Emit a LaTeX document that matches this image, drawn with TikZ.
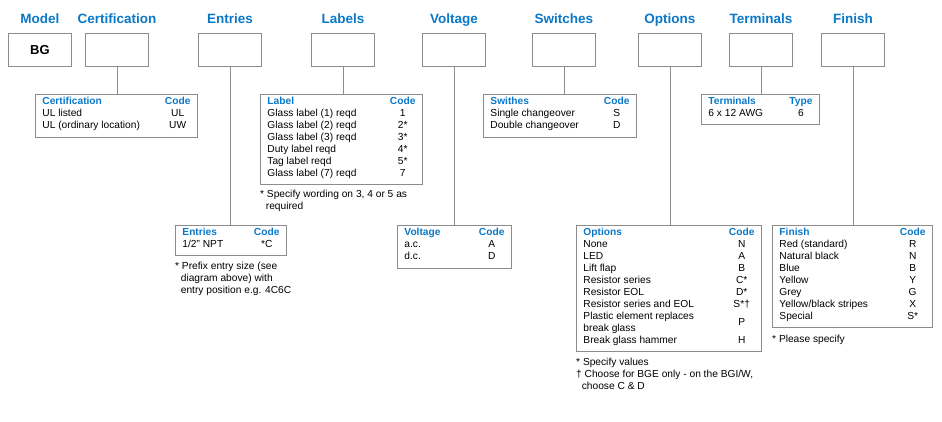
\documentclass[tikz,border=0pt]{standalone}
\usepackage{fontspec}
\setmainfont{Liberation Sans}
\usepackage{tikz}
\usetikzlibrary{positioning}
\definecolor{hdblue}{HTML}{0A78C8}
\definecolor{boxgrey}{HTML}{8C8C8C}
\newcommand{\hd}[1]{\textcolor{hdblue}{\textbf{#1}}}
\newcommand{\codetab}[2]{%
  \begin{tabular*}{#1}{@{}l@{\extracolsep{\fill}}c@{}}#2\end{tabular*}}

\begin{document}
\begin{tikzpicture}[
  x=1pt, y=-1pt,
  title/.style = {font=\fontsize{13.5}{15}\selectfont\bfseries, text=hdblue, anchor=base},
  field/.style = {draw=boxgrey, line width=0.9pt, minimum width=63pt, minimum height=33pt, anchor=north west, inner sep=0pt},
  table/.style = {draw=boxgrey, line width=0.9pt, anchor=north west, inner xsep=7pt, inner ysep=2pt, font=\fontsize{10.2}{12}\selectfont},
  note/.style = {anchor=north west, inner sep=0pt, align=left, font=\fontsize{10.2}{12}\selectfont},
  link/.style = {draw=boxgrey, line width=0.9pt}
]
  \useasboundingbox (0,0) rectangle (942,422);

  % Field boxes along the top
  \node[field, font=\fontsize{13}{15}\selectfont\bfseries] (model) at (8,33) {BG};
  \node[field] (cert)  at (85,33) {};
  \node[field] (entry) at (198,33) {};
  \node[field] (label) at (311,33) {};
  \node[field] (volt)  at (422,33) {};
  \node[field] (swit)  at (532,33) {};
  \node[field] (opt)   at (638,33) {};
  \node[field] (term)  at (729,33) {};
  \node[field] (fin)   at (821,33) {};

  % Titles
  \foreach \f/\t in {model/Model, cert/Certification, entry/Entries, label/Labels,
                     volt/Voltage, swit/Switches, opt/Options, term/Terminals, fin/Finish}
    \node[title] at (\f.north |- 0,24) {\t};

  % Certification table
  \node[table] (certtab) at (35,94) {\codetab{148pt}{%
    \hd{Certification} & \hd{Code}\\
    UL listed & UL\\
    UL (ordinary location) & UW\\[3pt]}};

  % Labels table
  \node[table] (labtab) at (260,94) {\codetab{148pt}{%
    \hd{Label} & \hd{Code}\\
    Glass label (1) reqd & 1\\
    Glass label (2) reqd & 2*\\
    Glass label (3) reqd & 3*\\
    Duty label reqd & 4*\\
    Tag label reqd & 5*\\
    Glass label (7) reqd & 7\\[2pt]}};
  \node[note] (labnote) at (260,190) {* Specify wording on 3, 4 or 5 as\\ \ \ required};

  % Switches table
  \node[table] (switab) at (483,94) {\codetab{139pt}{%
    \hd{Swithes} & \hd{Code}\\
    Single changeover & S\\
    Double changeover & D\\[3pt]}};

  % Terminals table
  \node[table] (termtab) at (701,94) {\codetab{104pt}{%
    \hd{Terminals} & \hd{Type}\\
    6 x 12 AWG & 6\\[2pt]}};

  % Entries table
  \node[table] (entrytab) at (175,225) {\codetab{97pt}{%
    \hd{Entries} & \hd{Code}\\
    1/2'' NPT & *C\\[2pt]}};
  \node[note] (entrynote) at (175,262) {* Prefix entry size (see\\ \ \ diagram above) with\\ \ \ entry position e.g. 4C6C};

  % Voltage table
  \node[table] (volttab) at (397,225) {\codetab{100pt}{%
    \hd{Voltage} & \hd{Code}\\
    a.c. & A\\
    d.c. & D\\[3pt]}};

  % Options table
  \node[table] (opttab) at (576,225) {\codetab{171pt}{%
    \hd{Options} & \hd{Code}\\
    None & N\\
    LED & A\\
    Lift flap & B\\
    Resistor series & C*\\
    Resistor EOL & D*\\
    Resistor series and EOL & S*\textdagger\\
    Plastic element replaces & \raisebox{-6pt}[0pt][0pt]{P}\\
    break glass & \\
    Break glass hammer & H\\[2pt]}};
  \node[note] (optnote) at (576,358) {* Specify values\\ \textdagger\ Choose for BGE only - on the BGI/W,\\ \ \ choose C \& D};

  % Finish table
  \node[table] (fintab) at (772,225) {\codetab{146pt}{%
    \hd{Finish} & \hd{Code}\\
    Red (standard) & R\\
    Natural black & N\\
    Blue & B\\
    Yellow & Y\\
    Grey & G\\
    Yellow/black stripes & X\\
    Special & S*\\[2pt]}};
  \node[note] (finnote) at (772,335) {* Please specify};

  % Links from field boxes down to their tables
  \draw[link] (cert.south)  -- (cert.south |- certtab.north);
  \draw[link] (entry.south) -- (entry.south |- entrytab.north);
  \draw[link] (label.south) -- (label.south |- labtab.north);
  \draw[link] (volt.south)  -- (volt.south |- volttab.north);
  \draw[link] (swit.south)  -- (swit.south |- switab.north);
  \draw[link] (opt.south)   -- (opt.south |- opttab.north);
  \draw[link] (term.south)  -- (term.south |- termtab.north);
  \draw[link] (fin.south)   -- (fin.south |- fintab.north);

\end{tikzpicture}
\end{document}
